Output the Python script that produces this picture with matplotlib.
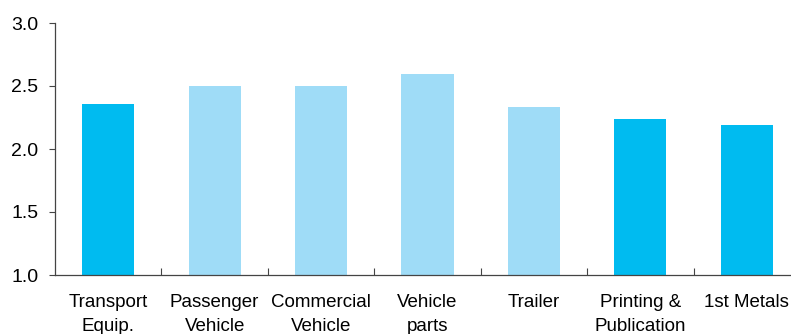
import numpy as np
import matplotlib.pyplot as plt

categories = ["Transport\nEquip.", "Passenger\nVehicle", "Commercial\nVehicle",
              "Vehicle\nparts", "Trailer", "Printing &\nPublication", "1st Metals"]
values = [2.355, 2.50, 2.50, 2.595, 2.33, 2.235, 2.19]
dark = [True, False, False, False, False, True, True]

plt.rcParams['font.family'] = ['Liberation Sans', 'DejaVu Sans']

fig = plt.figure(figsize=(7.91, 3.34), dpi=100)
ax = fig.add_axes([55/791, 59/334, 745/791, 252/334])

x = np.arange(len(categories))
colors = ["#00BBF0" if d else "#9FDCF7" for d in dark]
ax.bar(x, np.array(values) - 1.0, bottom=1.0, width=0.49, color=colors)

ax.set_ylim(1.0, 3.0)
ax.set_xlim(-0.5, len(categories) - 0.5)
ax.set_yticks([1.0, 1.5, 2.0, 2.5, 3.0])
ax.set_yticklabels(["1.0", "1.5", "2.0", "2.5", "3.0"], fontsize=14)
ax.tick_params(axis='y', length=4, width=0.8, color='#444444', pad=8)

ax.set_xticks(np.arange(0.5, len(categories) - 0.5, 1.0))
ax.set_xticklabels([])
ax.tick_params(axis='x', which='major', direction='in', length=5, width=0.8, color='#444444')
ax.set_xticks(x, minor=True)
ax.set_xticklabels(categories, minor=True, fontsize=13.5, linespacing=1.5)
ax.tick_params(axis='x', which='minor', length=0, pad=14)

for s in ['top', 'right']:
    ax.spines[s].set_visible(False)
for s in ['left', 'bottom']:
    ax.spines[s].set_color('#444444')
    ax.spines[s].set_linewidth(0.9)

fig.savefig("out.png", dpi=100)
